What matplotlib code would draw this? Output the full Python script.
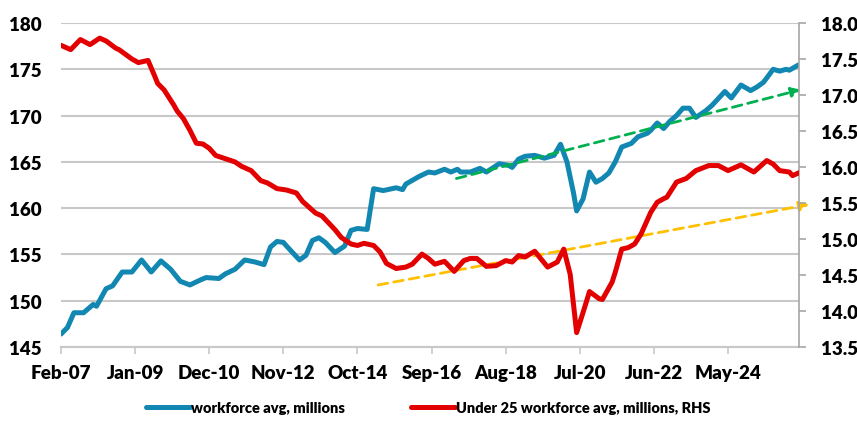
import matplotlib
matplotlib.use('Agg')
import matplotlib.pyplot as plt
import numpy as np

plt.rcParams['font.family'] = ['Lato', 'DejaVu Sans']
plt.rcParams['font.weight'] = 'heavy'

# months counted from Feb-07 (0 = Feb-07)
tick_months = [0, 23, 46, 69, 92, 115, 138, 161, 184, 207]
tick_labels = ['Feb-07', 'Jan-09', 'Dec-10', 'Nov-12', 'Oct-14',
               'Sep-16', 'Aug-18', 'Jul-20', 'Jun-22', 'May-24']

# workforce avg, millions (LHS)
wf_months = [0, 2, 4, 7, 10, 11, 14, 16, 19, 22, 25, 28, 31, 34, 37, 40, 43, 45,
             49, 51, 54, 57, 60, 63, 65, 67, 69, 70, 74, 76, 78, 80, 82, 85, 88,
             90, 92, 95, 97, 100, 104, 106, 107, 109, 111, 114, 116, 119, 121,
             123, 124, 127, 130, 132, 136, 139, 140, 142, 144, 147, 150, 153,
             155, 157, 159, 160, 162, 164, 166, 168, 170, 172, 174, 177, 179,
             182, 183, 185, 187, 189, 191, 193, 195, 197, 200, 202, 206, 208,
             211, 214, 216, 218, 221, 223, 225, 226, 229]
wf_vals = [146.4, 147.1, 148.7, 148.7, 149.6, 149.4, 151.3, 151.6, 153.1, 153.1,
           154.4, 153.1, 154.3, 153.4, 152.1, 151.7, 152.2, 152.5, 152.4, 152.9,
           153.4, 154.4, 154.2, 153.9, 155.8, 156.4, 156.3, 155.9, 154.4, 154.9,
           156.5, 156.8, 156.3, 155.2, 155.9, 157.6, 157.8, 157.7, 162.1, 161.9,
           162.2, 162.0, 162.6, 163.0, 163.4, 163.9, 163.8, 164.2, 163.9, 164.2,
           163.9, 163.9, 164.3, 163.9, 164.8, 164.6, 164.4, 165.3, 165.6, 165.7,
           165.4, 165.7, 166.9, 165.0, 161.7, 159.7, 161.0, 163.9, 162.8, 163.2,
           163.8, 165.0, 166.6, 167.0, 167.7, 168.1, 168.4, 169.2, 168.6, 169.4,
           170.0, 170.8, 170.8, 169.8, 170.5, 171.1, 172.6, 171.9, 173.3, 172.7,
           173.1, 173.6, 175.0, 174.8, 175.0, 174.9, 175.5]

# under 25 workforce avg, millions (RHS)
u25_months = [0, 3, 6, 9, 12, 14, 17, 18, 22, 24, 27, 29, 30, 32, 35, 36, 38, 40,
              42, 44, 46, 48, 50, 52, 54, 56, 59, 62, 64, 67, 70, 73, 75, 79, 81,
              85, 87, 90, 92, 94, 97, 99, 101, 104, 107, 109, 112, 114, 116, 119,
              122, 125, 127, 129, 132, 135, 138, 140, 142, 144, 147, 151, 154,
              156, 158, 160, 162, 164, 167, 168, 171, 172, 174, 176, 178, 180,
              183, 185, 187, 188, 191, 194, 197, 201, 204, 207, 211, 215, 217,
              219, 221, 223, 226, 227, 229]
u25_vals = [17.69, 17.63, 17.77, 17.70, 17.79, 17.75, 17.65, 17.63, 17.50, 17.45,
            17.48, 17.27, 17.16, 17.07, 16.86, 16.78, 16.67, 16.51, 16.33, 16.32,
            16.26, 16.16, 16.13, 16.10, 16.07, 16.01, 15.95, 15.81, 15.78, 15.70,
            15.68, 15.64, 15.52, 15.36, 15.32, 15.13, 15.02, 14.93, 14.91, 14.94,
            14.91, 14.82, 14.66, 14.59, 14.61, 14.65, 14.79, 14.73, 14.65, 14.69,
            14.55, 14.70, 14.73, 14.73, 14.62, 14.63, 14.70, 14.68, 14.77, 14.75,
            14.83, 14.61, 14.68, 14.86, 14.51, 13.70, 13.98, 14.27, 14.17, 14.16,
            14.40, 14.54, 14.86, 14.88, 14.93, 15.07, 15.37, 15.51, 15.56, 15.58,
            15.79, 15.84, 15.95, 16.02, 16.02, 15.95, 16.03, 15.93, 16.01, 16.09,
            16.04, 15.95, 15.93, 15.88, 15.92]

# trend arrows, in LHS units
green_trend = [(122.7, 163.2), (229.6, 172.8)]
orange_trend = [(98.4, 151.7), (232.2, 160.4)]

blue = '#1187B1'
red = '#E30000'
grid_col = '#C8C8C8'

fig = plt.figure(figsize=(8.57, 4.31), dpi=100)
ax = fig.add_axes([0.0712, 0.1926, 0.8611, 0.7517])
ax2 = ax.twinx()

ax.plot(wf_months, wf_vals, color=blue, lw=3.6, solid_joinstyle='round',
        solid_capstyle='round', zorder=3, label='workforce avg, millions')
ax2.plot(u25_months, u25_vals, color=red, lw=3.6, solid_joinstyle='round',
         solid_capstyle='round', zorder=3, label='Under 25 workforce avg, millions, RHS')

for tr, col in [(green_trend, '#00B050'), (orange_trend, '#FFC000')]:
    (x0, y0), (x1, y1) = tr
    ax.annotate('', xy=(x1, y1), xytext=(x0, y0),
                arrowprops=dict(arrowstyle='-|>', color=col, lw=2.0, ls=(0, (3.5, 2.2)),
                                mutation_scale=14, shrinkA=0, shrinkB=0),
                annotation_clip=False, zorder=4)

ax.set_xlim(0, 229)
ax.set_ylim(145, 180)
ax.set_yticks(np.arange(145, 181, 5))
ax2.set_ylim(13.5, 18.0)
ax2.set_yticks(np.arange(13.5, 18.01, 0.5))
ax2.set_yticklabels(['%.1f' % v for v in np.arange(13.5, 18.01, 0.5)])

ax.set_xticks(tick_months)
ax.set_xticklabels(tick_labels)
ax.yaxis.grid(True, color=grid_col, lw=1.5)
ax.set_axisbelow(True)

for a in (ax, ax2):
    for s in ('top', 'left'):
        a.spines[s].set_visible(False)
ax.spines['right'].set_visible(False)
ax2.spines['bottom'].set_visible(False)
ax.spines['bottom'].set_color(grid_col)
ax.spines['bottom'].set_linewidth(1.5)
ax2.spines['right'].set_color('#A6A6A6')
ax2.spines['right'].set_linewidth(1.2)

ax.tick_params(axis='y', length=0, labelsize=13.5, pad=14)
ax.tick_params(axis='x', length=5, width=1.2, color=grid_col, labelsize=13.5, pad=7)
ax2.tick_params(axis='y', length=5, width=1.2, color='#A6A6A6', labelsize=13.5, pad=11)

h1, l1 = ax.get_legend_handles_labels()
h2, l2 = ax2.get_legend_handles_labels()
fig.legend(h1 + h2, l1 + l2, loc='center', bbox_to_anchor=(0.5, 0.053), ncol=2,
           frameon=False, fontsize=10.5, handlelength=3.0, handletextpad=0.1,
           columnspacing=4.5)

fig.savefig('out.png', dpi=100)
